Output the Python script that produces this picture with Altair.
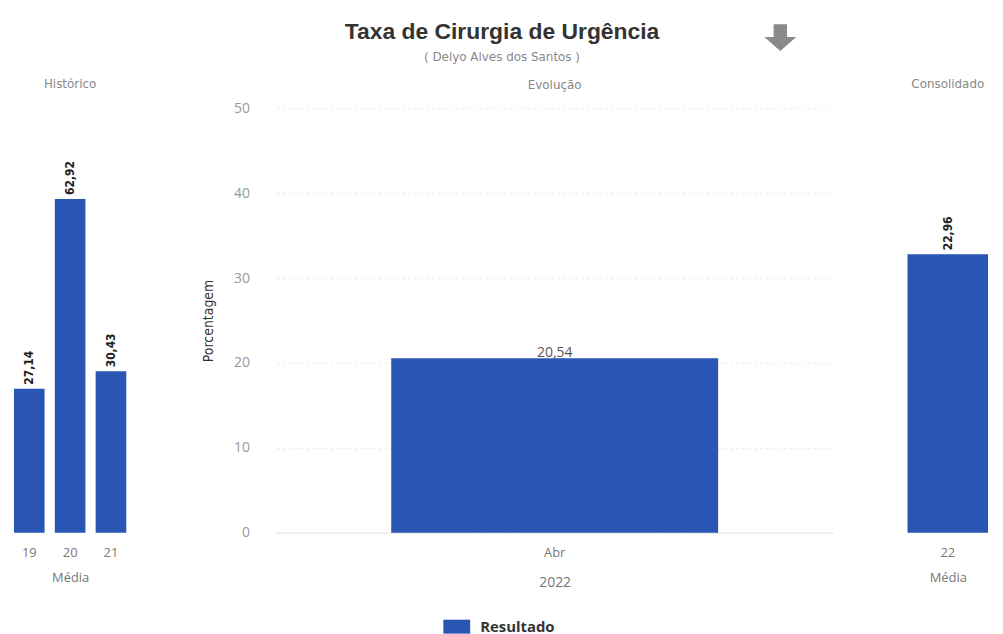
import altair as alt
import pandas as pd

# ---- data ----
hist_years = ["19", "20", "21"]
hist_values = [27.14, 62.92, 30.43]
hist_labels = ["27,14", "62,92", "30,43"]

evo_months = ["Abr"]
evo_values = [20.54]
evo_labels = ["20,54"]
evo_year = "2022"

cons_years = ["22"]
cons_values = [22.96]
cons_labels = ["22,96"]

series_name = "Resultado"
icon = ["seta"]

BLUE = "#2955b5"
H = 427
NARROW = "'DejaVu Sans Condensed', 'Liberation Sans Narrow', 'Arial Narrow', sans-serif"
SANS = "Open Sans"
ARROW = "M-0.42,-0.84H0.42V-0.05H1L0,0.84L-1,-0.05H-0.42Z"

df_hist = pd.DataFrame({"ano": hist_years, "valor": hist_values, "rotulo": hist_labels, "serie": series_name})
df_evo = pd.DataFrame({"mes": evo_months, "valor": evo_values, "rotulo": evo_labels, "serie": series_name})
df_cons = pd.DataFrame({"ano": cons_years, "valor": cons_values, "rotulo": cons_labels, "serie": series_name})
df_icon = pd.DataFrame({"icone": icon})

color_scale = alt.Scale(domain=[series_name], range=[BLUE])

panel_title = dict(fontSize=12, font="DejaVu Sans", fontWeight="normal", color="#888")


def side_panel(df, title, ymax, width, pad_inner):
    base = alt.Chart(df)
    bars = base.mark_bar().encode(
        x=alt.X("ano:N", title="Média", sort=None,
                scale=alt.Scale(paddingInner=pad_inner, paddingOuter=0),
                axis=alt.Axis(labelAngle=0, ticks=False, domain=False, labelPadding=14,
                              titlePadding=12, labelFontSize=13, titleFontSize=13,
                              labelFont=SANS, titleFont=SANS, labelColor="#777",
                              titleColor="#777", titleFontWeight="normal")),
        y=alt.Y("valor:Q", scale=alt.Scale(domain=[0, ymax]), axis=None),
        color=alt.Color("serie:N", scale=color_scale, legend=None),
    )
    text = base.mark_text(angle=270, align="left", baseline="middle", dx=4,
                          font=NARROW, fontWeight="bold", fontSize=12, color="#222").encode(
        x=alt.X("ano:N", sort=None), y="valor:Q", text="rotulo:N")
    return (bars + text).properties(
        width=width, height=H,
        title=alt.TitleParams(title, offset=17, **panel_title))


hist = side_panel(df_hist, "Histórico", 80, 113, 0.25)
cons = side_panel(df_cons, "Consolidado", 35, 81, 0.0)

evo_base = alt.Chart(df_evo)
evo_bars = evo_base.mark_bar().encode(
    x=alt.X("mes:N", title=evo_year,
            scale=alt.Scale(paddingInner=0.26, paddingOuter=0.26),
            axis=alt.Axis(labelAngle=0, ticks=False, domainColor="#e4e4e4", labelPadding=14,
                          titlePadding=16, labelFontSize=13, titleFontSize=14,
                          labelFont=SANS, titleFont=SANS, labelColor="#777",
                          titleColor="#777", titleFontWeight="normal")),
    y=alt.Y("valor:Q", title="Porcentagem", scale=alt.Scale(domain=[0, 50]),
            axis=alt.Axis(values=[0, 10, 20, 30, 40, 50], ticks=False, domain=False,
                          labelPadding=27, labelFontSize=14, labelFont=SANS, labelColor="#999",
                          gridColor="#ececec", gridDash=[3, 3],
                          titleFont=NARROW, titleFontSize=14, titleFontWeight="normal",
                          titleColor="#333", titlePadding=18)),
    color=alt.Color("serie:N", scale=color_scale,
                    legend=alt.Legend(orient="none", legendX=168, legendY=508, title=None,
                                      symbolType="M-1,-0.52H1V0.52H-1Z", symbolSize=729,
                                      symbolStrokeWidth=0,
                                      labelFontSize=15, labelFontWeight="bold", labelColor="#333",
                                      labelFont=SANS, labelOffset=10, padding=0)),
)
evo_text = evo_base.mark_text(baseline="middle", dy=-5, font=SANS, fontSize=14, color="#555").encode(
    x="mes:N", y="valor:Q", text="rotulo:N")

evo = (evo_bars + evo_text).properties(
    width=560, height=H, title=alt.TitleParams("Evolução", offset=9, **panel_title))

body = alt.hconcat(hist, evo, cons, spacing=75).resolve_legend(color="independent").resolve_scale(
    color="independent", y="independent", x="independent"
)

header = alt.Chart(df_icon).mark_point(shape=ARROW, filled=True, size=1024, color="#8a8a8a",
                                       opacity=1, strokeWidth=0).encode(
    x=alt.value(771), y=alt.value(-30), detail="icone:N"
).properties(
    width=982, height=1,
    title=alt.TitleParams(
        "Taxa de Cirurgia de Urgência",
        subtitle="( Delyo Alves dos Santos )",
        font="Liberation Sans", fontSize=23, fontWeight="bold", color="#333",
        subtitleFont="DejaVu Sans", subtitleFontSize=12, subtitleColor="#888",
        subtitlePadding=8, anchor="middle", offset=-39),
)

chart = alt.vconcat(header, body, spacing=10).properties(
    padding={"left": 6, "top": 11, "right": 5, "bottom": 0},
    background="white",
).configure_view(stroke=None)

chart.save("out.html", embed_options={"renderer": "svg", "actions": False})
